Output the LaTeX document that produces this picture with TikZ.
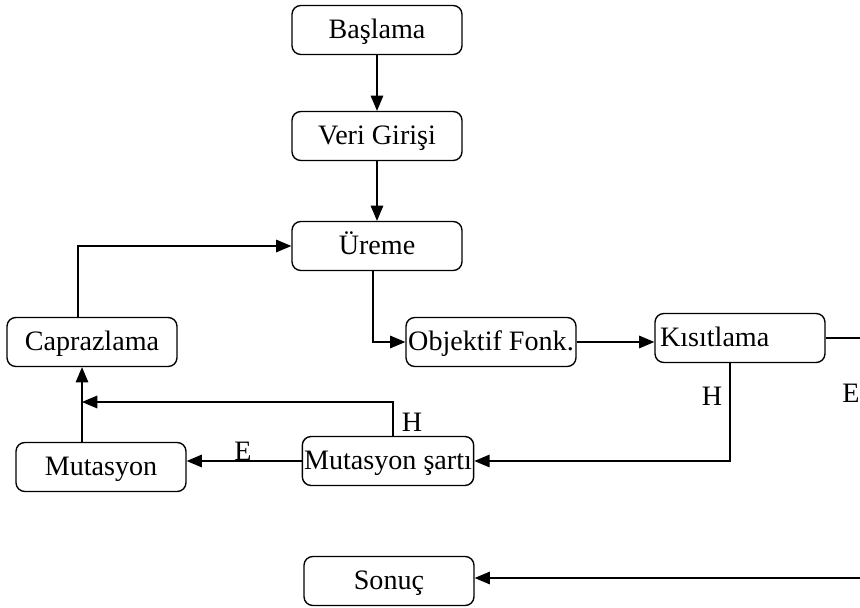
\documentclass[tikz,border=0pt]{standalone}
\usepackage{fontspec}
\setmainfont{Liberation Serif}
\usepackage{tikz}
\usetikzlibrary{arrows}
\usetikzlibrary{shapes,arrows}
\tikzstyle{line} = [draw, -{triangle 45}, line width=1.0pt]
\tikzstyle{duz} = [draw, line width=1.0pt]
\tikzstyle{blok} = [draw, rounded corners=5pt, line width=0.8pt, minimum width=3.4cm, minimum height=0.98cm, inner sep=1pt, text height=1em, text depth=0pt]

\begin{document}
\begin{tikzpicture}[x=0.02cm,y=-0.02cm]
	\tikzstyle{every node}=[font=\fontsize{16}{18}\selectfont]
	\useasboundingbox (0,0) rectangle (860,608);
	\clip (0,0) rectangle (860,608);
	
	\node[blok] (basla) at (377,30) {Başlama};
	\node[blok] (veri) at (377,136) {Veri Girişi};
	\node[blok] (ureme) at (377,246) {Üreme};
	\node[blok] (objektif) at (491,342) {Objektif Fonk.};
	\node[blok, text width=3.2cm, align=left] (kisit) at (740,338) {Kısıtlama};
	\node[blok] (caprazlama) at (92,342) {Caprazlama};
	\node[blok] (mutasyon) at (101,467) {Mutasyon};
	\node[blok] (mutsart) at (388,461) {Mutasyon şartı};
	\node[blok] (sonuc) at (389,581) {Sonuç};
	
	\coordinate (kol) at (82,402);
	\coordinate (sagust) at (866,338);
	\coordinate (sagalt) at (866,578);
	
	% ------------------- Main flow ------------------- %
	\path[line] (basla) -- (veri);
	\path[line] (veri) -- (ureme);
	\path[line] ([xshift=-0.08cm]ureme.south) |- (objektif.west);
	\path[line] (objektif.east) -- (objektif.east -| kisit.west);
	
	% ------------------- Constraint branches ------------------- %
	\path[duz] (kisit.east) -- (sagust) -- (sagalt);
	\path[line] (sagalt) -- (sagalt -| sonuc.east);
	\node at (851,393) {E};
	\path[line] ([xshift=-0.2cm]kisit.south) |- (mutsart.east);
	\node at (712,396) {H};
	
	% ------------------- Mutation loop ------------------- %
	\path[line] (mutsart.west) -- (mutsart.west -| mutasyon.east);
	\node at (243,451) {E};
	\path[line] ([xshift=0.1cm]mutsart.north) |- (kol);
	\node at (412,422) {H};
	\path[line] (mutasyon.north -| kol) -- (kol |- caprazlama.south);
	\path[line] ([xshift=-0.28cm]caprazlama.north) |- (ureme.west);
\end{tikzpicture}
\end{document}
